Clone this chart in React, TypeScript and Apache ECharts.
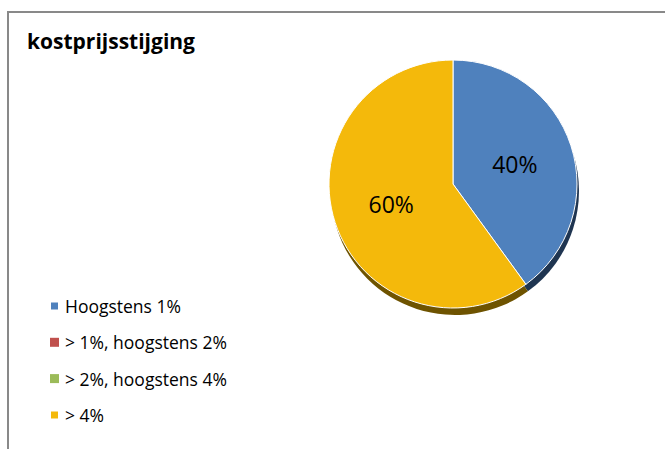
import React, { useEffect, useRef } from "react";
import * as echarts from "echarts";

const title = "kostprijsstijging";
const categories = ["Hoogstens 1%", "> 1%, hoogstens 2%", "> 2%, hoogstens 4%", "> 4%"];
const values = [40, 0, 0, 60];
const colors = ["#4f81bd", "#c0504d", "#9bbb59", "#f4b90b"];
const shadowColors = ["#1f3551", "#5a2523", "#4a5a2a", "#6e5300"];

export default function App() {
  const ref = useRef<HTMLDivElement>(null);
  useEffect(() => {
    if (!ref.current) return;
    const chart = echarts.init(ref.current, null, { renderer: "svg" });
    const font = "Open Sans";
    chart.setOption({
      animation: false,
      backgroundColor: "#ffffff",
      title: {
        text: title,
        left: 22,
        top: 25,
        textStyle: { fontFamily: font, fontWeight: "bold", fontSize: 21, color: "#000" },
      },
      legend: {
        data: categories,
        orient: "vertical",
        left: 44,
        top: 292,
        itemWidth: 9,
        itemHeight: 9,
        itemGap: 18.3,
        icon: "rect",
        selectedMode: false,
        textStyle: { fontFamily: font, fontSize: 17.5, color: "#000", padding: [0, 0, 0, 1] },
      },
      graphic: [
        {
          type: "rect",
          shape: { x: 8, y: 12, width: 800, height: 600 },
          style: { fill: "none", stroke: "#898989", lineWidth: 2 },
          z: 0,
          silent: true,
        },
      ],
      series: [
        {
          type: "pie",
          name: "main",
          center: [453, 184],
          radius: [0, 124],
          startAngle: 90,
          clockwise: true,
          z: 3,
          silent: true,
          labelLine: { show: false },
          itemStyle: { borderColor: "#ffffff", borderWidth: 1 },
          label: {
            show: true,
            position: "inside",
            fontFamily: font,
            fontSize: 23,
            color: "#000",
            formatter: (p: any) => (p.value > 0 ? `${Math.round(p.percent)}%` : ""),
          },
          data: categories.map((c, i) => ({
            name: c,
            value: values[i],
            itemStyle: { color: colors[i], borderWidth: values[i] > 0 ? 1 : 0 },
          })),
        },
        {
          type: "pie",
          name: "shadow",
          center: [455, 191],
          radius: [0, 124],
          startAngle: 90,
          clockwise: true,
          z: 1,
          silent: true,
          label: { show: false },
          labelLine: { show: false },
          itemStyle: { borderWidth: 0 },
          data: values.map((v, i) => ({
            name: "shadow" + i,
            value: v,
            itemStyle: { color: shadowColors[i] },
          })),
        },
      ],
    });
    return () => chart.dispose();
  }, []);
  return (
    <div
      ref={ref}
      style={{ position: "absolute", left: 0, top: 0, width: 665, height: 449 }}
    />
  );
}
